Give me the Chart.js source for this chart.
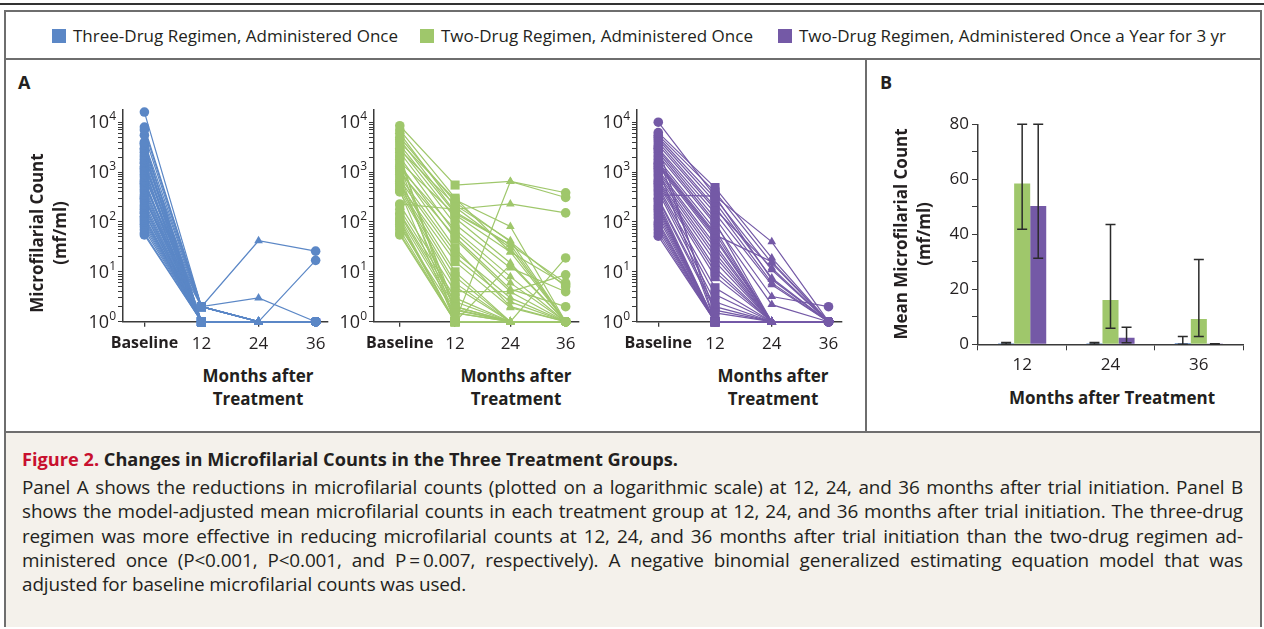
<!DOCTYPE html>
<html>
<head>
<meta charset="utf-8">
<script src="https://cdn.jsdelivr.net/npm/chart.js@4.4.1/dist/chart.umd.min.js"></script>
<style>
  body { margin: 0; width: 1264px; height: 629px; background: #fff; font-family: "Open Sans", sans-serif; color: #231f20; position: relative; overflow: hidden; }
  .abs { position: absolute; }
  #topline { left: 0; top: 3px; width: 1264px; height: 2px; background: #333; }
  #frame { left: 4px; top: 10px; width: 1254px; height: 613px; border: 2px solid #6e6e6e; }
  #legsep { left: 4px; top: 58px; width: 1258px; height: 2px; background: #6e6e6e; }
  #divider { left: 865px; top: 58px; width: 2px; height: 374px; background: #6e6e6e; }
  #caption { left: 6px; top: 431px; width: 1254px; height: 194px; background: #f4f1eb; border-top: 2px solid #6e6e6e; }
  .leg { top: 25px; font-size: 17px; line-height: 22px; white-space: nowrap; }
  .sq { display: inline-block; width: 14px; height: 14px; vertical-align: -1px; margin-right: 7px; }
  .panel { font-weight: bold; font-size: 18px; top: 70px; }
  .ytitle { font-weight: bold; font-size: 17px; line-height: 23px; text-align: center; transform: rotate(-90deg); white-space: nowrap; }
  .xtitle { font-weight: bold; font-size: 17px; line-height: 23px; text-align: center; white-space: nowrap; }
  #captext { left: 22px; top: 445px; width: 1221px; font-size: 18.9px; }
  #captext .head { font-weight: bold; font-size: 18.2px; line-height: 29px; margin-bottom: 1px; }
  #captext .head span { color: #c8102e; }
  #captext .ln { line-height: 24.3px; letter-spacing: -0.12px; text-align: justify; text-align-last: justify; white-space: nowrap; }
  #captext .ln.last { text-align-last: left; }
  canvas { position: absolute; }
</style>
</head>
<body>
<div class="abs" id="topline"></div>
<div class="abs" id="frame"></div>
<div class="abs" id="legsep"></div>
<div class="abs" id="divider"></div>
<div class="abs" id="caption"></div>

<div class="abs leg" style="left:52px"><span class="sq" style="background:#5b87c6"></span>Three-Drug Regimen, Administered Once</div>
<div class="abs leg" style="left:420px"><span class="sq" style="background:#9fc76b"></span>Two-Drug Regimen, Administered Once</div>
<div class="abs leg" style="left:778px"><span class="sq" style="background:#7459a6"></span>Two-Drug Regimen, Administered Once a Year for 3 yr</div>

<div class="abs panel" style="left:18px">A</div>
<div class="abs panel" style="left:880px">B</div>

<canvas id="c1" width="290" height="262" style="left:60px;top:100px"></canvas>
<canvas id="c2" width="290" height="262" style="left:311px;top:100px"></canvas>
<canvas id="c3" width="290" height="262" style="left:574px;top:100px"></canvas>
<canvas id="cb" width="330" height="262" style="left:930px;top:110px"></canvas>

<div class="abs ytitle" style="left:-82px;top:210px;width:260px">Microfilarial Count<br>(mf/ml)</div>
<div class="abs xtitle" style="left:178px;top:364px;width:160px">Months after<br>Treatment</div>
<div class="abs xtitle" style="left:436px;top:364px;width:160px">Months after<br>Treatment</div>
<div class="abs xtitle" style="left:693px;top:364px;width:160px">Months after<br>Treatment</div>

<div class="abs ytitle" style="left:782px;top:211px;width:260px">Mean Microfilarial Count<br>(mf/ml)</div>
<div class="abs xtitle" style="left:992px;top:386px;width:240px">Months after Treatment</div>

<div class="abs" id="captext">
  <div class="head"><span>Figure 2.</span> Changes in Microfilarial Counts in the Three Treatment Groups.</div>
  <div class="ln">Panel A shows the reductions in microfilarial counts (plotted on a logarithmic scale) at 12, 24, and 36 months after trial initiation. Panel B</div>
  <div class="ln">shows the model-adjusted mean microfilarial counts in each treatment group at 12, 24, and 36 months after trial initiation. The three-drug</div>
  <div class="ln">regimen was more effective in reducing microfilarial counts at 12, 24, and 36 months after trial initiation than the two-drug regimen ad-</div>
  <div class="ln">ministered once (P&lt;0.001, P&lt;0.001, and P&#8201;=&#8201;0.007, respectively). A negative binomial generalized estimating equation model that was</div>
  <div class="ln last">adjusted for baseline microfilarial counts was used.</div>
</div>

<script>
// months after treatment (Baseline = 0)
const months = [0, 12, 24, 36];
const monthLabels = ['Baseline', '12', '24', '36'];
const powerTicks = [1, 10, 100, 1000, 10000];

// Panel A: one row per participant: baseline, 12, 24, 36 months (mf/ml, 0 shown as 10^0)
const threeDrugOnce = [
  [16000, 2, 1, 1], [8000, 2, 1, 1], [7000, 2, 42, 26], [5500, 2, 1, 1], [4000, 2, 3, 1],
  [3800, 1, 1, 1], [3500, 1, 1, 1], [3000, 2, 1, 1], [2800, 1, 1, 1], [2500, 1, 1, 1],
  [2200, 1, 1, 1], [2000, 2, 1, 1], [1800, 1, 1, 1], [1600, 1, 1, 1], [1500, 1, 1, 1],
  [1300, 2, 1, 1], [1200, 1, 1, 1], [1100, 1, 1, 1], [1000, 1, 1, 17], [900, 1, 1, 1],
  [800, 2, 1, 1], [700, 1, 1, 1], [650, 1, 1, 1], [600, 1, 1, 1], [550, 2, 1, 1],
  [500, 1, 1, 1], [450, 1, 1, 1], [400, 1, 1, 1], [350, 1, 1, 1], [320, 1, 1, 1],
  [300, 1, 1, 1], [280, 2, 1, 1], [250, 1, 1, 1], [220, 1, 1, 1], [200, 1, 1, 1],
  [180, 1, 1, 1], [160, 1, 1, 1], [150, 1, 1, 1], [130, 1, 1, 1], [120, 1, 1, 1],
  [110, 1, 1, 1], [100, 1, 1, 1], [90, 1, 1, 1], [80, 1, 1, 1], [70, 1, 1, 1],
  [60, 1, 1, 1], [55, 1, 1, 1]
];

const twoDrugOnce = [
  [8500, 550, 650, 385], [7000, 300, 25, 1], [6000, 200, 30, 1], [5000, 250, 40, 5],
  [4500, 160, 35, 1], [4000, 280, 81, 1], [3500, 150, 35, 6], [3000, 120, 15, 1],
  [2800, 220, 42, 1], [2500, 90, 12, 4], [2200, 1, 1, 1], [2000, 60, 6, 1],
  [1800, 1.5, 1, 1], [1600, 140, 25, 5.5], [1400, 45, 4, 1], [1300, 2, 1, 1],
  [1200, 70, 8, 1], [1100, 30, 2, 1], [1000, 50, 4.5, 2], [900, 1, 1, 1],
  [800, 25, 3, 1], [700, 20, 2.5, 1], [650, 1.8, 1, 1], [600, 10, 1, 1],
  [550, 16, 1.9, 1], [500, 8, 1, 1], [450, 6, 1, 1], [420, 1, 650, 310],
  [400, 5, 1, 19], [230, 180, 230, 152], [220, 4, 4, 8.7], [180, 3, 1, 1],
  [150, 2.5, 1, 1], [140, 2, 1, 1], [120, 1.7, 1, 1], [110, 1, 1, 1],
  [100, 1, 14, 1], [90, 1, 1, 1], [80, 1.5, 1, 1], [70, 1, 1, 1],
  [60, 1, 1, 1], [55, 1, 1, 1]
];

const twoDrugYearly = [
  [10000, 330, 40, 1], [6200, 490, 19, 1], [5500, 400, 15, 1], [5000, 300, 11, 1],
  [4500, 250, 7.5, 1], [4000, 200, 6, 1], [3500, 180, 12, 1], [3200, 1, 1, 1],
  [3000, 150, 5.5, 1], [2800, 120, 3.2, 2], [2500, 100, 1, 1], [2200, 90, 2.2, 1],
  [2000, 1.5, 1, 1], [1800, 70, 1, 1], [1600, 60, 1, 1], [1500, 55, 16, 1],
  [1400, 50, 1, 1], [1300, 45, 1, 1], [1200, 1, 1, 1], [1100, 35, 1, 1],
  [1000, 30, 1, 1], [900, 24, 1, 1], [800, 20, 1, 1], [700, 16, 1, 1],
  [650, 12, 1, 1], [600, 10, 1, 1], [550, 8, 1, 1], [500, 4.8, 1, 1],
  [450, 3.5, 1, 1], [400, 2.5, 1, 1], [350, 330, 7, 1], [300, 2, 1, 1],
  [280, 1.7, 1, 1], [250, 1, 1, 1], [220, 1, 1, 1], [200, 1, 1, 1],
  [180, 1, 1, 1], [160, 1, 1, 1], [140, 1, 1, 1], [120, 1, 1, 1],
  [100, 1, 1, 1], [90, 1, 1, 1], [80, 1, 1, 1], [70, 1, 1, 1],
  [60, 1, 1, 1], [52, 1, 1, 1]
];

// Panel B: model-adjusted means with 95% CI
const barMonths = ['12', '24', '36'];
const threeDrugMean = [0.4, 0.4, 0.5];
const threeDrugLow = [0, 0, 0];
const threeDrugHigh = [0.7, 0.7, 2.8];
const twoOnceMean = [58.5, 16.1, 9.2];
const twoOnceLow = [41.8, 5.8, 2.8];
const twoOnceHigh = [80, 43.6, 30.8];
const twoYearlyMean = [50.3, 2.4, 0.1];
const twoYearlyLow = [31.3, 0.6, 0];
const twoYearlyHigh = [80, 6.2, 0.2];

const blue = '#5b87c6', green = '#9fc76b', purple = '#7459a6';
const ink = '#231f20', axisCol = '#3a3a3a';
const pointStyles = ['circle', 'rect', 'triangle', 'circle'];
const pointSizes = [4.8, 6.4, 5, 4.8];

Chart.defaults.font.family = '"Open Sans", sans-serif';
Chart.defaults.color = ink;

// "10" with a raised exponent next to each power-of-ten tick
const powerLabels = {
  id: 'powerLabels',
  afterDraw(chart) {
    const ctx = chart.ctx, y = chart.scales.y
    ctx.save()
    ctx.fillStyle = ink
    ctx.textAlign = 'right'
    powerTicks.forEach(v => {
      let py = y.getPixelForValue(v)
      let right = y.right - 7
      let exp = String(Math.round(Math.log10(v)))
      ctx.font = '12px "Open Sans"'
      ctx.textBaseline = 'alphabetic'
      let ew = ctx.measureText(exp).width
      ctx.fillText(exp, right, py - 2)
      ctx.font = '18px "Open Sans"'
      ctx.textBaseline = 'middle'
      ctx.fillText('10', right - ew, py + 1)
    })
    ctx.restore()
  }
};

function logPanel(id, rows, color, xMin, xMax, axisW) {
  let sets = rows.map(r => ({
    data: r.map((v, i) => ({ x: months[i], y: v })),
    borderColor: color,
    backgroundColor: color,
    borderWidth: 1.2,
    pointStyle: pointStyles,
    pointRadius: pointSizes,
    pointBorderWidth: 0,
    pointBackgroundColor: color,
    clip: false,
    tension: 0
  }))
  return new Chart(document.getElementById(id), {
    type: 'line',
    data: { datasets: sets },
    options: {
      responsive: false,
      animation: false,
      events: [],
      layout: { padding: { top: 9.5, right: 22, left: 0, bottom: 0 } },
      plugins: { legend: { display: false }, tooltip: { enabled: false } },
      scales: {
        x: {
          type: 'linear', min: xMin, max: xMax,
          afterBuildTicks: s => { s.ticks = months.map(m => ({ value: m })) },
          afterFit: s => { s.height = 40.3 },
          grid: { drawOnChartArea: false, tickLength: 5, color: axisCol, lineWidth: 1.3 },
          border: { color: axisCol, width: 1.5 },
          ticks: {
            padding: 7, maxRotation: 0, autoSkip: false, color: ink,
            font: c => ({ size: c.index === 0 ? 16 : 17, weight: c.index === 0 ? 'bold' : 'normal' }),
            callback: v => monthLabels[months.indexOf(v)]
          }
        },
        y: {
          type: 'logarithmic', min: 1, max: 18000,
          afterFit: s => { s.width = axisW },
          grid: { drawOnChartArea: false, tickLength: 5, color: axisCol, lineWidth: 1 },
          border: { color: axisCol, width: 1.5 },
          ticks: {
            padding: 2, autoSkip: false, color: ink, font: { size: 12 },
            callback: v => {
              let e = Math.floor(Math.log10(v) + 1e-9)
              let s = v / Math.pow(10, e)
              if (Math.abs(s - Math.round(s)) > 1e-6) return null
              return ''
            }
          }
        }
      }
    },
    plugins: [powerLabels]
  });
}

logPanel('c1', threeDrugOnce, blue, -4.5, 38.6, 63);
logPanel('c2', twoDrugOnce, green, -5.6, 38.9, 63);
logPanel('c3', twoDrugYearly, purple, -4.5, 38.85, 63);

// error bars for panel B
const errorBars = {
  id: 'errorBars',
  afterDatasetsDraw(chart) {
    const ctx = chart.ctx, y = chart.scales.y
    ctx.save()
    ctx.strokeStyle = '#2b2b2b'
    ctx.lineWidth = 1.5
    chart.data.datasets.forEach((ds, i) => {
      chart.getDatasetMeta(i).data.forEach((bar, j) => {
        let lo = y.getPixelForValue(ds.errLow[j]), hi = y.getPixelForValue(ds.errHigh[j])
        ctx.beginPath()
        ctx.moveTo(bar.x, lo); ctx.lineTo(bar.x, hi)
        ctx.moveTo(bar.x - 5, lo); ctx.lineTo(bar.x + 5, lo)
        ctx.moveTo(bar.x - 5, hi); ctx.lineTo(bar.x + 5, hi)
        ctx.stroke()
      })
    })
    ctx.restore()
  }
};

new Chart(document.getElementById('cb'), {
  type: 'bar',
  data: {
    labels: barMonths,
    datasets: [
      { data: threeDrugMean, errLow: threeDrugLow, errHigh: threeDrugHigh, backgroundColor: blue },
      { data: twoOnceMean, errLow: twoOnceLow, errHigh: twoOnceHigh, backgroundColor: green },
      { data: twoYearlyMean, errLow: twoYearlyLow, errHigh: twoYearlyHigh, backgroundColor: purple }
    ]
  },
  options: {
    responsive: false,
    animation: false,
    events: [],
    datasets: { bar: { categoryPercentage: 0.545, barPercentage: 1, borderWidth: 0 } },
    layout: { padding: { top: 14.3, right: 17, left: 0, bottom: 0 } },
    plugins: { legend: { display: false }, tooltip: { enabled: false } },
    scales: {
      x: {
        afterFit: s => { s.height = 262 - 14.3 - 220 },
        grid: { drawOnChartArea: false, tickLength: 6, color: axisCol, offset: true },
        border: { color: axisCol, width: 1.5 },
        ticks: { padding: 5, color: ink, font: { size: 17 } }
      },
      y: {
        min: 0, max: 80,
        afterFit: s => { s.width = 48 },
        grid: { drawOnChartArea: false, tickLength: 6, color: axisCol },
        border: { color: axisCol, width: 1.5 },
        ticks: { stepSize: 10, padding: 3, color: ink, font: { size: 17 }, callback: v => v % 20 === 0 ? v : '' }
      }
    }
  },
  plugins: [errorBars]
});
</script>
</body>
</html>
